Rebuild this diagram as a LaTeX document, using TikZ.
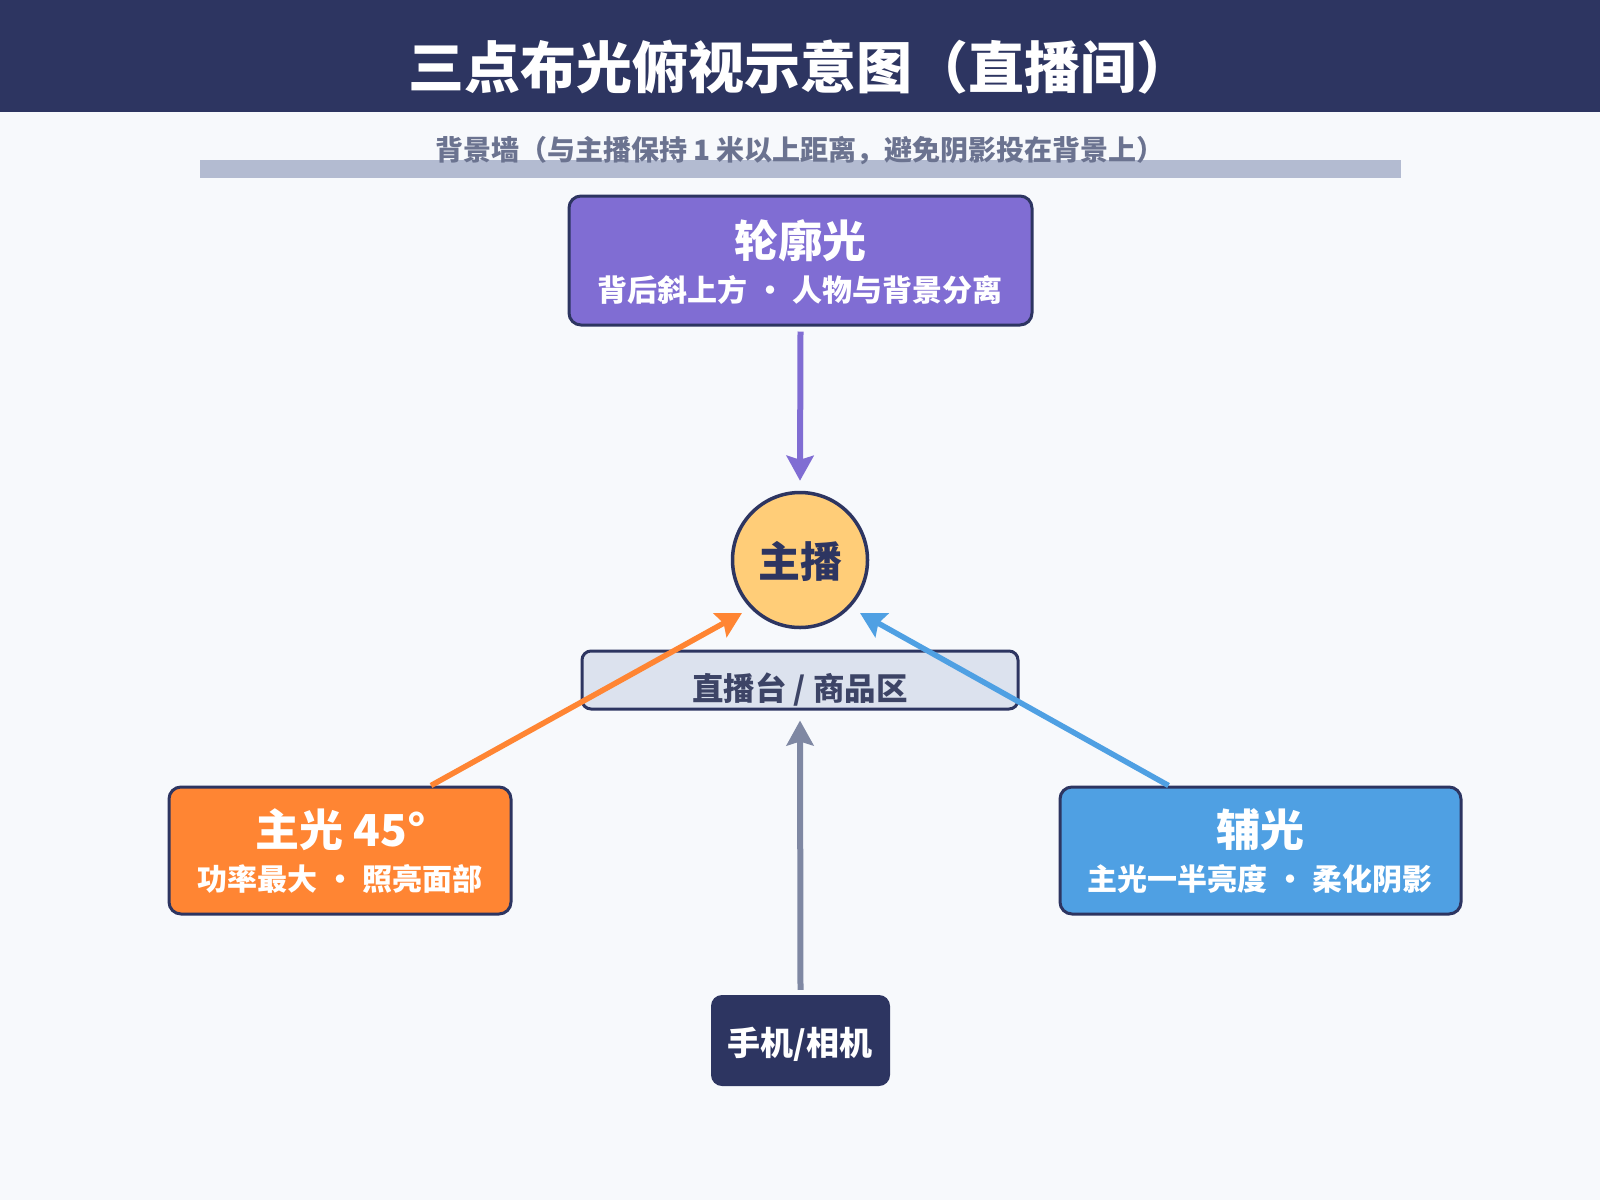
\documentclass[tikz,border=0pt]{standalone}
\usepackage{fontspec}
\setmainfont{Noto Sans CJK SC}
\usetikzlibrary{arrows.meta,calc}

\definecolor{navy}{HTML}{2D3561}
\definecolor{pagebg}{HTML}{F7F9FC}
\definecolor{wallc}{HTML}{B3BBD1}
\definecolor{walltxt}{HTML}{6B7390}
\definecolor{rimc}{HTML}{806DD3}
\definecolor{keyc}{HTML}{FF8533}
\definecolor{fillc}{HTML}{4FA0E3}
\definecolor{hostc}{HTML}{FFCD78}
\definecolor{stagec}{HTML}{DCE2EE}
\definecolor{stagetxt}{HTML}{3D4466}
\definecolor{camarrow}{HTML}{7F88A3}

\newcommand{\sep}{\hspace{0.25em}·\hspace{0.25em}}

\tikzset{
  lightbox/.style={draw=navy, line width=3pt, rounded corners=12pt, inner sep=0pt},
  boxtitle/.style={text=white, font=\bfseries\fontsize{44}{50}\selectfont, inner sep=0pt},
  boxsub/.style={text=white, font=\bfseries\fontsize{30}{34}\selectfont, inner sep=0pt},
  beam/.style={line width=6pt, -{Stealth[length=25pt, width=27pt, inset=4pt]}},
}

\begin{document}
\begin{tikzpicture}[x=1pt, y=-1pt]
  \useasboundingbox (0,0) rectangle (1600,1200);
  \fill[pagebg] (0,0) rectangle (1600,1200);

  % header bar
  \fill[navy] (0,0) rectangle (1600,112);
  \node[text=white, font=\bfseries\fontsize{56}{62}\selectfont, inner sep=0pt] (title) at (800,67) {三点布光俯视示意图（直播间）};

  % back wall
  \fill[wallc] (200,160) rectangle (1401,178);
  \node[text=walltxt, font=\bfseries\fontsize{28}{32}\selectfont, inner sep=0pt] (wall) at (800,151) {背景墙（与主播保持 1 米以上距离，避免阴影投在背景上）};

  % rim light
  \node[lightbox, fill=rimc, minimum width=463pt, minimum height=129pt] (rim) at (800.5,260.5) {};
  \node[boxtitle] (rimt) at (800,241) {轮廓光};
  \node[boxsub] (rims) at (800,290) {背后斜上方\sep 人物与背景分离};

  % desk
  \node[draw=navy, line width=3pt, fill=stagec, rounded corners=9pt, minimum width=436pt, minimum height=58pt, inner sep=0pt] (stage) at (800,680) {};
  \node[text=stagetxt, font=\bfseries\fontsize{31.5}{35}\selectfont, inner sep=0pt] (staget) at (800,690) {直播台 / 商品区};

  % host
  \node[circle, draw=navy, line width=3.5pt, fill=hostc, minimum size=135pt, inner sep=0pt] (host) at (800,560) {};
  \node[text=navy, font=\bfseries\fontsize{42}{46}\selectfont, inner sep=0pt] (hostt) at (800,561) {主播};

  % key light
  \node[lightbox, fill=keyc, minimum width=342pt, minimum height=127pt] (key) at (340,850.5) {};
  \node[boxtitle] (keyt) at (340.5,830) {主光 45°};
  \node[boxsub] (keys) at (340,879) {功率最大\sep 照亮面部};

  % fill light
  \node[lightbox, fill=fillc, minimum width=401pt, minimum height=127pt] (fill) at (1260.5,850.5) {};
  \node[boxtitle] (fillt) at (1260,830) {辅光};
  \node[boxsub] (fills) at (1260,879) {主光一半亮度\sep 柔化阴影};

  % camera
  \node[fill=navy, rounded corners=11pt, minimum width=179pt, minimum height=91pt, inner sep=0pt] (cam) at (800.5,1040.5) {};
  \node[text=white, font=\bfseries\fontsize{33}{36}\selectfont, inner sep=0pt] (camt) at (800,1044) {手机/相机};

  % beams
  \draw[beam, rimc] ($(rim.south)+(0,5)$) -- ($(host.north)+(0,-10)$);
  \draw[beam, keyc, line width=5.5pt] ($(key.north)+(91,0)$) -- ($(host.center)+(-58,53)$);
  \draw[beam, fillc, line width=5.5pt] ($(fill.north)+(-92,0)$) -- ($(host.center)+(60,53)$);
  \draw[beam, camarrow] ($(cam.north)+(0,-5)$) -- ($(stage.south)+(0,10)$);
\end{tikzpicture}
\end{document}
